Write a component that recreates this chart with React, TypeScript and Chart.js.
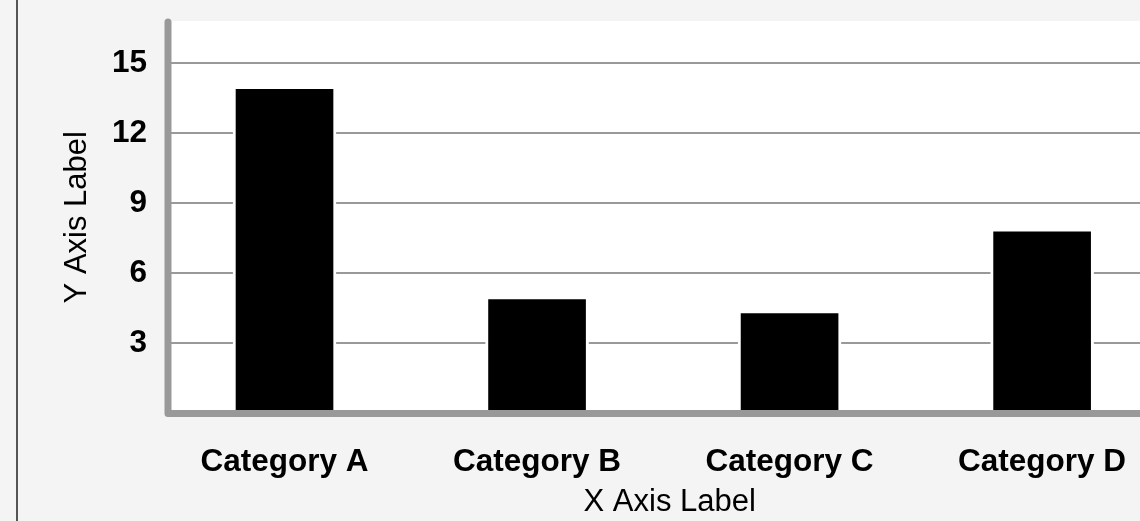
import React, { useEffect, useRef } from "react";
import { Chart, registerables } from "chart.js";

Chart.register(...registerables);

const categories = ["Category A", "Category B", "Category C", "Category D"];
const values = [14, 5, 4.4, 7.9];
const yTicks = [0, 3, 6, 9, 12, 15];
const xTitle = "X Axis Label";
const yTitle = "Y Axis Label";

const FONT = "'Liberation Sans', Arial, Helvetica, sans-serif";

const framePlugin = {
  id: "frame",
  beforeDraw(chart: any) {
    const { ctx, width, height, chartArea: a } = chart;
    ctx.save();
    ctx.fillStyle = "#f4f4f4";
    ctx.fillRect(0, 0, width, height);
    ctx.fillStyle = "#555555";
    ctx.fillRect(16, 0, 2, height);
    ctx.fillStyle = "#ffffff";
    ctx.fillRect(a.left, a.top, a.right - a.left, a.bottom - a.top);
    ctx.restore();
  },
  afterDatasetsDraw(chart: any) {
    const { ctx, chartArea: a } = chart;
    ctx.save();
    ctx.strokeStyle = "#999999";
    ctx.lineWidth = 7;
    ctx.lineCap = "round";
    ctx.lineJoin = "round";
    ctx.beginPath();
    ctx.moveTo(a.left, a.top + 1);
    ctx.lineTo(a.left, a.bottom);
    ctx.lineTo(a.right + 20, a.bottom);
    ctx.stroke();
    ctx.restore();
  },
};

export default function App() {
  const ref = useRef<HTMLCanvasElement | null>(null);

  useEffect(() => {
    if (!ref.current) return;
    const chart = new Chart(ref.current, {
      type: "bar",
      data: {
        datasets: [
          {
            data: values.map((v, i) => ({ x: i, y: v })),
            backgroundColor: "#000000",
            borderColor: "#ffffff",
            borderWidth: 3,
            barThickness: 103,
          },
        ],
      },
      options: {
        animation: false,
        responsive: true,
        maintainAspectRatio: false,
        layout: { padding: { top: 21, left: 0, right: 18.6, bottom: 0 } },
        plugins: {
          legend: { display: false },
          tooltip: { enabled: false },
          title: { display: false },
        },
        scales: {
          x: {
            type: "linear",
            offset: false,
            min: -0.4614,
            max: 3.512,
            grid: { display: false, drawTicks: false, offset: false },
            border: { display: false },
            afterBuildTicks: (scale: any) => {
              scale.ticks = categories.map((_, i) => ({ value: i }));
            },
            afterFit: (scale: any) => {
              scale.height = 107.5;
              scale.paddingLeft = 0;
              scale.paddingRight = 0;
              scale.paddingTop = 0;
              scale.paddingBottom = 0;
            },
            ticks: {
              autoSkip: false,
              maxRotation: 0,
              padding: 30,
              color: "#000000",
              font: { family: FONT, size: 31.5, weight: "bold" },
              callback: (v: any) => categories[Math.round(Number(v))] ?? "",
            },
            title: {
              display: true,
              text: xTitle,
              color: "#000000",
              padding: { top: 0, bottom: 0 },
              font: { family: FONT, size: 31, weight: "normal" },
            },
          },
          y: {
            type: "linear",
            min: 0,
            max: 16.8,
            grid: { color: "#999999", lineWidth: 2, drawTicks: false },
            border: { display: false },
            afterBuildTicks: (scale: any) => {
              scale.ticks = yTicks.map((v) => ({ value: v }));
            },
            afterFit: (scale: any) => {
              scale.width = 168;
              scale.paddingLeft = 0;
              scale.paddingRight = 0;
              scale.paddingTop = 0;
              scale.paddingBottom = 0;
            },
            ticks: {
              padding: 21,
              color: "#000000",
              font: { family: FONT, size: 31.5, weight: "bold" },
              callback: (v: any) => (Number(v) === 0 ? "" : String(v)),
            },
            title: {
              display: true,
              text: yTitle,
              color: "#000000",
              padding: { top: 58.4, bottom: 0 },
              font: { family: FONT, size: 31, weight: "normal" },
            },
          },
        },
      },
      plugins: [framePlugin],
    } as any);
    return () => chart.destroy();
  }, []);

  return (
    <div
      style={{
        position: "fixed",
        left: 0,
        top: 0,
        width: 1140,
        height: 521,
        overflow: "hidden",
        background: "#f4f4f4",
      }}
    >
      <div style={{ position: "absolute", left: 0, top: 0, width: 1190, height: 521 }}>
        <canvas ref={ref} />
      </div>
    </div>
  );
}
